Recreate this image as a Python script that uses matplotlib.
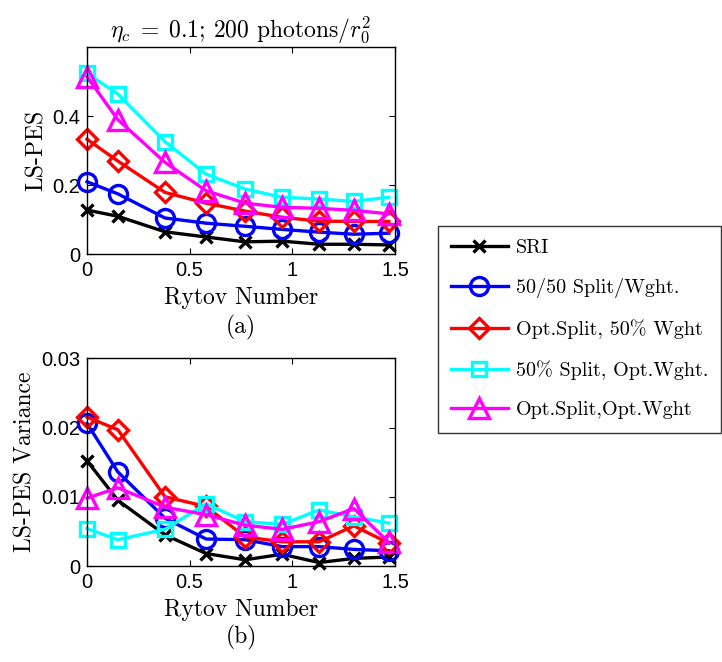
import matplotlib
matplotlib.use("Agg")
from matplotlib import pyplot as plt

plt.rcParams['font.family'] = 'serif'
plt.rcParams['font.serif'] = ['cmr10']
plt.rcParams['mathtext.fontset'] = 'cm'
plt.rcParams['axes.unicode_minus'] = False

rytov = [0, 0.15, 0.38, 0.58, 0.77, 0.95, 1.13, 1.30, 1.47]

labels = ["SRI", "50/50 Split/Wght.", "Opt.Split, 50% Wght",
          "50% Split, Opt.Wght.", "Opt.Split,Opt.Wght"]

pes_sri = [0.128, 0.110, 0.065, 0.050, 0.036, 0.038, 0.029, 0.029, 0.027]
pes_5050 = [0.210, 0.175, 0.105, 0.090, 0.081, 0.072, 0.064, 0.058, 0.061]
pes_optsplit = [0.333, 0.270, 0.179, 0.148, 0.125, 0.107, 0.096, 0.095, 0.095]
pes_optwght = [0.524, 0.464, 0.326, 0.232, 0.189, 0.165, 0.160, 0.153, 0.165]
pes_optboth = [0.514, 0.390, 0.266, 0.184, 0.148, 0.136, 0.133, 0.127, 0.117]

var_sri = [0.0152, 0.0095, 0.0045, 0.0018, 0.0009, 0.0017, 0.0005, 0.0011, 0.0013]
var_5050 = [0.0206, 0.0136, 0.0069, 0.0039, 0.0038, 0.0028, 0.0028, 0.0024, 0.0022]
var_optsplit = [0.0215, 0.0197, 0.0100, 0.0086, 0.0042, 0.0035, 0.0035, 0.0058, 0.0033]
var_optwght = [0.0054, 0.0038, 0.0053, 0.0090, 0.0064, 0.0060, 0.0081, 0.0071, 0.0062]
var_optboth = [0.0098, 0.0113, 0.0085, 0.0074, 0.0059, 0.0053, 0.0064, 0.0083, 0.0034]

colors = ['#000000', '#0000ff', '#ff0000', '#00ffff', '#ff00ff']
markers = ['x', 'o', 'D', 's', '^']
msizes = [9, 13, 10, 10, 14]

tick_font = 'Liberation Sans'

fig = plt.figure(figsize=(7.22, 6.62), dpi=100)
ax1 = fig.add_axes([0.1205, 0.6159, 0.4266, 0.3131])
ax2 = fig.add_axes([0.1205, 0.145, 0.4266, 0.3137])

handles = []
for i, ys in enumerate([pes_sri, pes_5050, pes_optsplit, pes_optwght, pes_optboth]):
    h, = ax1.plot(rytov, ys, color=colors[i], marker=markers[i], markersize=msizes[i],
                  markerfacecolor='none', markeredgewidth=2.4, linewidth=2.4,
                  label=labels[i], clip_on=False)
    handles.append(h)
for i, ys in enumerate([var_sri, var_5050, var_optsplit, var_optwght, var_optboth]):
    ax2.plot(rytov, ys, color=colors[i], marker=markers[i], markersize=msizes[i],
             markerfacecolor='none', markeredgewidth=2.4, linewidth=2.4, clip_on=False)

ax1.set_ylim(0, 0.6)
ax1.set_yticks([0, 0.2, 0.4])
ax1.set_yticklabels(['0', '0.2', '0.4'])
ax2.set_ylim(0, 0.03)
ax2.set_yticks([0, 0.01, 0.02, 0.03])
ax2.set_yticklabels(['0', '0.01', '0.02', '0.03'])

for ax in [ax1, ax2]:
    ax.set_xlim(0, 1.5)
    ax.set_xticks([0, 0.5, 1, 1.5])
    ax.set_xticklabels(['0', '0.5', '1', '1.5'])
    ax.tick_params(direction='in', top=True, right=True, length=4, width=0.8, pad=5)
    for lab in ax.get_xticklabels() + ax.get_yticklabels():
        lab.set_fontfamily(tick_font)
        lab.set_fontsize(14.5)
    for sp in ax.spines.values():
        sp.set_linewidth(1.0)
    ax.set_xlabel('Rytov Number', fontsize=17, labelpad=5)

ax1.set_ylabel('LS-PES', fontsize=17, labelpad=3)
ax2.set_ylabel('LS-PES Variance', fontsize=17, labelpad=3)
ax1.set_title(r'$\eta_c\;=\;0.1$; 200 photons/$r_0^2$', fontsize=17, pad=7)

fig.text(241 / 722, 1 - 327 / 662, '(a)', fontsize=17, ha='center', va='center')
fig.text(241 / 722, 1 - 637 / 662, '(b)', fontsize=17, ha='center', va='center')

leg = fig.legend(handles=handles, loc='upper left', bbox_to_anchor=(428 / 722, 1 - 216 / 662),
                 fontsize=14.5, frameon=True, fancybox=False, edgecolor='k',
                 handlelength=2.8, labelspacing=1.05, borderpad=0.65, handletextpad=0.4)
leg.get_frame().set_linewidth(1.0)

plt.savefig('out.png', dpi=100)
